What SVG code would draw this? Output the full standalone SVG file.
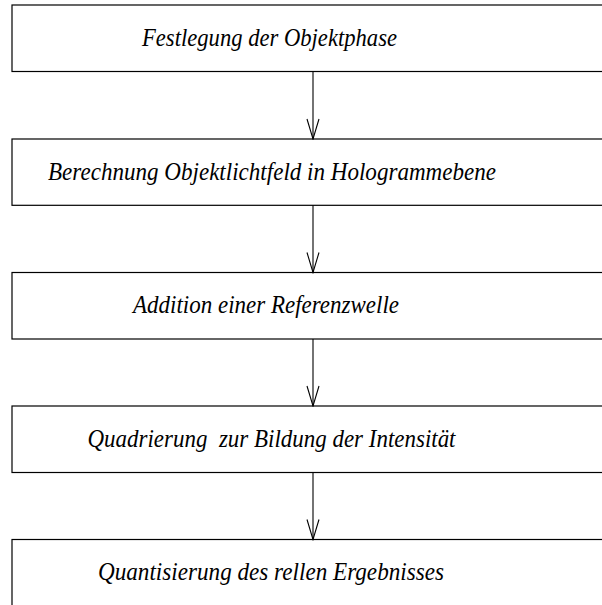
<svg xmlns="http://www.w3.org/2000/svg" width="602" height="605" viewBox="0 0 602 605">
  <style>
    .box { fill: #ffffff; stroke: #000000; stroke-width: 1.2; }
    .lbl { font-family: "Liberation Serif", "Times New Roman", serif; font-style: italic; font-size: 25px; fill: #000000; white-space: pre; }
    .conn { stroke: #000000; stroke-width: 1.1; fill: none; }
  </style>
  <defs>
    <!-- open V arrowhead, drawn along +x so orient="auto" points it down the line -->
    <marker id="vee" markerUnits="userSpaceOnUse" markerWidth="22" markerHeight="14" refX="21" refY="7" orient="auto" viewBox="0 0 22 14">
      <path d="M1 1 L21 7 L1 13" fill="none" stroke="#000000" stroke-width="1.1"/>
    </marker>
  </defs>
  <rect width="602" height="605" fill="#ffffff"/>

  <g id="step1">
    <rect class="box" x="12" y="5" width="600" height="66.5"/>
    <text class="lbl" x="142" y="45.5" textLength="255" lengthAdjust="spacingAndGlyphs">Festlegung der Objektphase</text>
  </g>
  <g id="step2">
    <rect class="box" x="12" y="139" width="600" height="66.3"/>
    <text class="lbl" x="48" y="179.5" textLength="448" lengthAdjust="spacingAndGlyphs">Berechnung Objektlichtfeld in Hologrammebene</text>
  </g>
  <g id="step3">
    <rect class="box" x="12" y="272.5" width="600" height="66.5"/>
    <text class="lbl" x="133" y="313" textLength="266" lengthAdjust="spacingAndGlyphs">Addition einer Referenzwelle</text>
  </g>
  <g id="step4">
    <rect class="box" x="12" y="406" width="600" height="66.5"/>
    <text class="lbl" x="87.5" y="446.5" textLength="368" lengthAdjust="spacingAndGlyphs" xml:space="preserve">Quadrierung  zur Bildung der Intensität</text>
  </g>
  <g id="step5">
    <rect class="box" x="12" y="539.5" width="600" height="80"/>
    <text class="lbl" x="98" y="580" textLength="346" lengthAdjust="spacingAndGlyphs">Quantisierung des rellen Ergebnisses</text>
  </g>

  <g id="connectors">
    <line class="conn" x1="313" y1="71.5" x2="313" y2="139" marker-end="url(#vee)"/>
    <line class="conn" x1="313" y1="205.3" x2="313" y2="272.5" marker-end="url(#vee)"/>
    <line class="conn" x1="313" y1="339" x2="313" y2="406" marker-end="url(#vee)"/>
    <line class="conn" x1="313" y1="472.5" x2="313" y2="539.5" marker-end="url(#vee)"/>
  </g>
</svg>
